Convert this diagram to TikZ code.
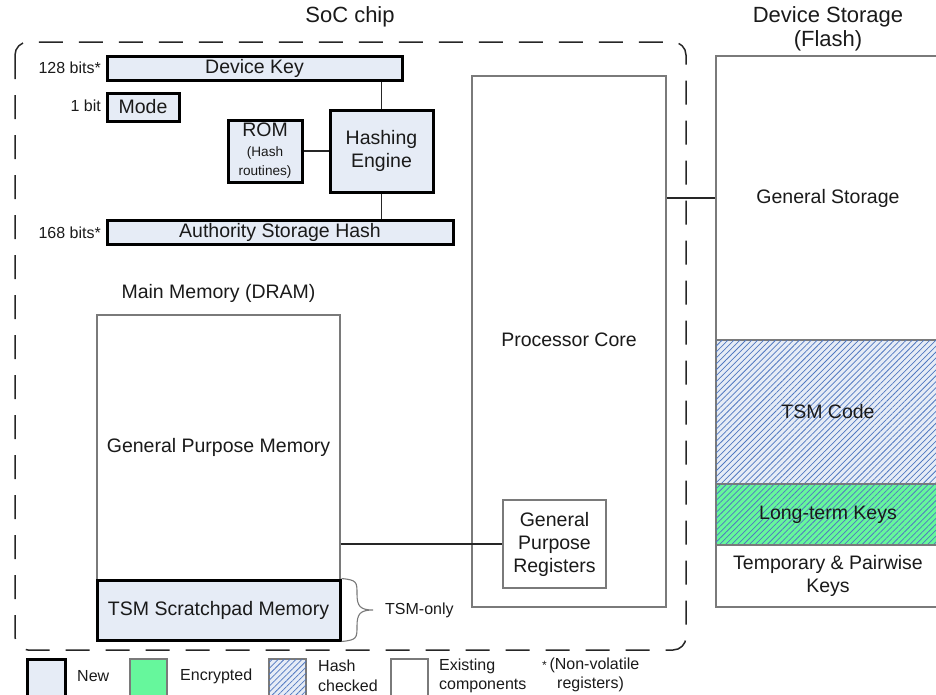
\documentclass[tikz,border=0pt]{standalone}
\usepackage{fontspec}
\setmainfont{Liberation Sans}
\usetikzlibrary{patterns.meta}
\definecolor{newfill}{HTML}{E6ECF6}
\definecolor{encfill}{HTML}{66F79C}
\definecolor{hatchblue}{HTML}{5078C0}
\definecolor{oldline}{HTML}{7A7A7A}
\definecolor{txt}{HTML}{1A1A1A}
\newcommand{\bigtxt}{\fontsize{19.5}{23}\selectfont}
\newcommand{\midtxt}{\fontsize{16}{19.5}\selectfont}
\newcommand{\smalltxt}{\fontsize{13.6}{16}\selectfont}
\newcommand{\titletxt}{\fontsize{22}{24}\selectfont}
\tikzset{
  newbox/.style={draw=black, line width=3pt, fill=newfill, inner sep=0pt,
    text=txt, font=\bigtxt, align=center},
  oldbox/.style={draw=oldline, line width=1.2pt, fill=white, inner sep=0pt,
    text=txt, font=\bigtxt, align=center},
  hashed/.style={postaction={pattern={Lines[angle=45,distance=4.2pt,line width=0.75pt]},
    pattern color=hatchblue}},
  wire/.style={draw=black!85, line width=1.2pt},
  lbl/.style={text=txt, font=\midtxt, inner sep=0pt, align=left},
  ttl/.style={text=txt, font=\titletxt, inner sep=0pt, align=center},
  chip/.style={draw=black!85, line width=1.5pt, dash pattern=on 24pt off 16pt,
    rounded corners=13pt},
}
\begin{document}
\begin{tikzpicture}[x=1pt,y=-1pt]
\useasboundingbox (0,0) rectangle (936,694);
\clip (0,0) rectangle (936,694);

% SoC boundary
\draw[chip] (15,42) rectangle (686,650);
\node[ttl] (soc) at (350,17) {SoC chip};

% non-volatile registers and hashing logic
\node[newbox, minimum width=295pt, minimum height=24pt] (dk) at (254.5,68) {Device Key};
\node[newbox, minimum width=72pt, minimum height=28pt] (mode) at (143,107) {Mode};
\node[newbox, minimum width=74pt, minimum height=62pt] (rom) at (265,151)
  {ROM\\[-3pt]{\smalltxt (Hash}\\[-4pt]{\smalltxt routines)}};
\node[newbox, minimum width=103pt, minimum height=82pt] (he) at (381.5,151) {Hashing\\Engine};
\node[newbox, minimum width=346pt, minimum height=24pt] (ash) at (280,232) {Authority Storage Hash};

\node[lbl, anchor=east] (dkbits) at (101,68) {128 bits*};
\node[lbl, anchor=east] (modebits) at (101,106) {1 bit};
\node[lbl, anchor=east] (ashbits) at (101,233) {168 bits*};

\draw[wire] (dk.south -| he.north) -- (he.north);
\draw[wire] (he.south) -- (ash.north -| he.south);
\draw[wire] (rom.east) -- (rom.east -| he.west);

% main memory
\node[ttl, font=\bigtxt] (mmtitle) at (218.5,293) {Main Memory (DRAM)};
\node[oldbox, minimum width=243pt, minimum height=265pt] (gpm) at (218.5,447.5) {General Purpose Memory};
\node[newbox, minimum width=243pt, minimum height=60pt] (tsm) at (218.5,610) {TSM Scratchpad Memory};
\draw[oldline, line width=1.1pt]
  (tsm.north east) .. controls (357,580) and (357,582) .. (357,594)
  .. controls (357,606) and (360,610) .. (373,610)
  .. controls (360,610) and (357,614) .. (357,626)
  .. controls (357,638) and (357,640) .. (tsm.south east);
\node[lbl, anchor=west] (tsmonly) at (385,610) {TSM-only};

% processor
\node[oldbox, minimum width=194pt, minimum height=531pt] (proc) at (569,341.5) {};
\node[text=txt, font=\bigtxt] (proclbl) at (569,340) {Processor Core};
\node[oldbox, minimum width=103pt, minimum height=88pt] (gpr) at (554.5,544)
  {General\\Purpose\\Registers};
\draw[wire] (gpm.east |- gpr.west) -- (gpr.west);

% flash storage
\node[ttl] (flashtitle) at (828,29) {Device Storage\\(Flash)};
\node[oldbox, minimum width=224pt, minimum height=284pt] (gs) at (828,198) {General Storage};
\node[oldbox, fill=newfill, hashed, minimum width=224pt, minimum height=144pt] (code) at (828,412) {TSM Code};
\node[oldbox, fill=encfill, hashed, minimum width=224pt, minimum height=61pt] (ltk) at (828,514.5) {Long-term Keys};
\node[oldbox, minimum width=224pt, minimum height=62pt] (tmp) at (828,576) {Temporary \& Pairwise\\Keys};
\coordinate (link) at (0,198);
\draw[wire] (proc.east |- link) -- (gs.west |- link);

% legend
\node[newbox, minimum width=38pt, minimum height=40pt] (kn) at (46,679) {};
\node[lbl, anchor=west] (knt) at (77,676) {New};
\node[oldbox, fill=encfill, minimum width=37pt, minimum height=40pt] (ke) at (148.5,679) {};
\node[lbl, anchor=west] (ket) at (180,676) {Encrypted};
\node[oldbox, fill=newfill, hashed, minimum width=37pt, minimum height=40pt] (kh) at (287.5,679) {};
\node[lbl, anchor=west] (kht) at (318,676) {Hash\\checked};
\node[oldbox, minimum width=37pt, minimum height=40pt] (kx) at (409.5,679) {};
\node[lbl, anchor=west] (kxt) at (439,676) {Existing\\components};
\node[lbl, anchor=west] (kvt) at (542,675) {{\fontsize{12}{14}\selectfont *}\,(Non-volatile\\\hspace*{15pt}registers)};
\end{tikzpicture}
\end{document}
